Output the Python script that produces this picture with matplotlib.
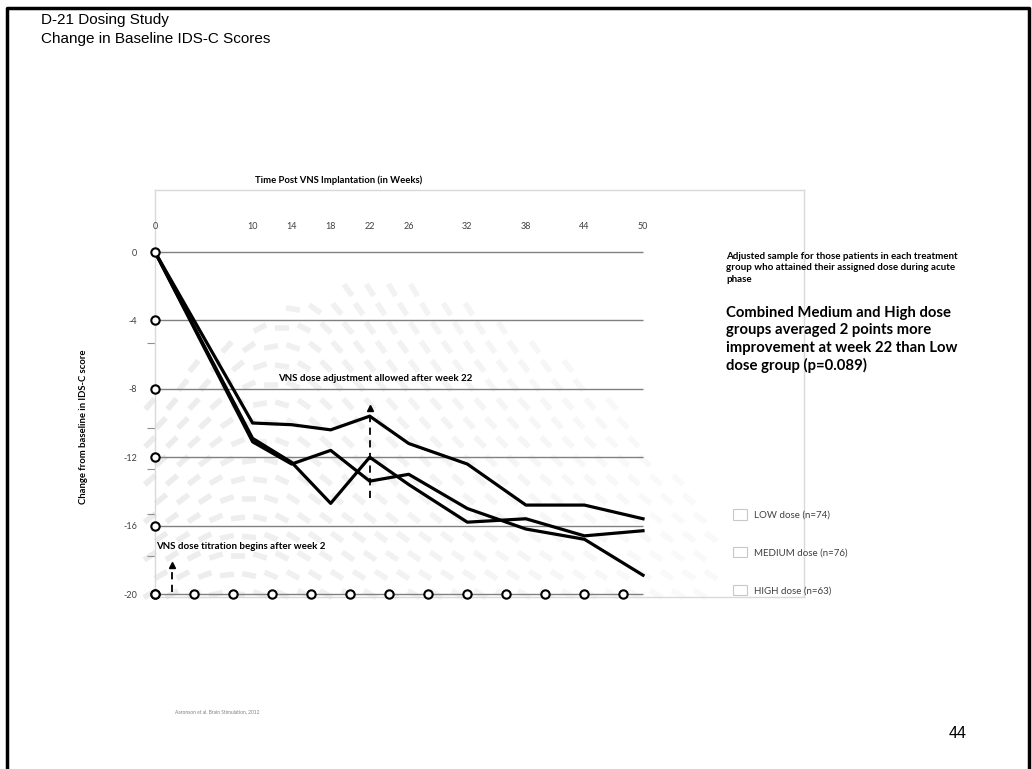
import numpy as np
import matplotlib.pyplot as plt
from matplotlib.collections import LineCollection
from matplotlib.patches import Patch

plt.rcParams['font.family'] = ['Lato', 'DejaVu Sans']

# mean change from baseline IDS-C score by week
weeks = [0, 10, 14, 18, 22, 26, 32, 38, 44, 50]
low_dose = [0, -10.0, -10.1, -10.4, -9.6, -11.2, -12.4, -14.8, -14.8, -15.6]
medium_dose = [0, -11.1, -12.4, -11.6, -13.4, -13.0, -15.0, -16.2, -16.8, -18.9]
high_dose = [0, -10.9, -12.3, -14.7, -12.0, -13.6, -15.8, -15.6, -16.6, -16.3]
series_labels = ['LOW dose (n=74)', 'MEDIUM dose (n=76)', 'HIGH dose (n=63)']

y_ticks = [0, -4, -8, -12, -16, -20]
y_minor = [-5.3, -10.3, -12.7, -15.3, -17.8]
visit_weeks = [0, 4, 8, 12, 16, 20, 24, 28, 32, 36, 40, 44, 48]

W, H = 1032, 769
fig = plt.figure(figsize=(W / 100, H / 100), dpi=100)

# page layer in pixel units: slide frame + faint dashed watermark
bg = fig.add_axes([0, 0, 1, 1])
bg.set_xlim(0, W)
bg.set_ylim(H, 0)
bg.axis('off')
bg.plot([7, 7, 1029, 1029], [H, 8, 8, H], color='black', lw=2.5)

segs, cols = [], []
for j, py in enumerate(np.arange(290, 600, 19)):
    for px in np.arange(150 + (j % 2) * 11, 720, 22):
        if py < 285 + 0.00217 * (px - 380) ** 2:
            continue
        t = (py - 290) / 310
        ang = -np.radians(60 - 30 * t) * np.tanh((px - 290 + 60 * t) / 40)
        dx, dy = 7 * np.cos(ang), -7 * np.sin(ang)
        segs.append([(px - dx, py - dy), (px + dx, py + dy)])
        fade = min(1.0, max(0.0, (px - 150) / 500))
        g = 0.925 + 0.05 * fade
        cols.append((g, g, g))
bg.add_collection(LineCollection(segs, colors=cols, linewidths=4, capstyle='butt', zorder=0))

# chart
ax = fig.add_axes([155 / W, 1 - 597 / H, 649 / W, 407 / H])
ax.patch.set_alpha(0)
ax.set_xlim(0, 649 / 9.76)
ax.set_ylim(-(597 - 252) / 17.1, 62 / 17.1)
for s in ax.spines.values():
    s.set_color('#d9d9d9')
    s.set_linewidth(1)

ax.hlines(y_ticks, 0, 50, color='#808080', lw=1, zorder=1)
ax.plot([0, 0], [0, -20], color='black', lw=1.2, zorder=2)

for vals in (low_dose, medium_dose, high_dose):
    ax.plot(weeks, vals, color='black', lw=2.3, zorder=3)

ax.plot([0] * len(y_ticks), y_ticks, 'o', ms=6, mfc='white', mec='black',
        mew=1.5, zorder=5, clip_on=False)
ax.plot(visit_weeks, [-20] * len(visit_weeks), 'o', ms=6, mfc='white', mec='black',
        mew=1.5, zorder=5, clip_on=False)

ax.set_xticks([])
ax.set_yticks(y_ticks)
ax.set_yticklabels([str(v) for v in y_ticks], fontsize=6.5, color='#404040')
ax.tick_params(axis='y', which='major', length=0, pad=13)
ax.set_yticks(y_minor, minor=True)
ax.tick_params(axis='y', which='minor', length=6, color='#909090', width=0.8)

for w in weeks:
    ax.text(w, 1.5, str(w), ha='center', va='center', fontsize=6.5, color='#404040')

fig.text(339 / W, 1 - 180 / H, 'Time Post VNS Implantation (in Weeks)', ha='center',
         va='center', fontsize=6.8, fontweight='bold')
fig.text(83 / W, 1 - 427 / H, 'Change from baseline in IDS-C score', rotation=90,
         ha='center', va='center', fontsize=6.8, fontweight='bold')

# dose-change markers
ax.text(12.6, -7.37, 'VNS dose adjustment allowed after week 22', ha='left', va='center',
        fontsize=7, fontweight='bold')
ax.plot([22, 22], [-14.4, -9.2], color='black', lw=1.3, ls=(0, (4, 3)), zorder=4)
ax.plot([22], [-9.1], marker='^', ms=4, color='black', zorder=4)
ax.text(0.1, -17.2, 'VNS dose titration begins after week 2', ha='left', va='center',
        fontsize=7, fontweight='bold')
ax.plot([1.7, 1.7], [-19.9, -18.4], color='black', lw=1.3, ls=(0, (4, 3)), zorder=4)
ax.plot([1.7], [-18.3], marker='^', ms=4, color='black', zorder=4)

fig.text(726 / W, 1 - 252 / H,
         'Adjusted sample for those patients in each treatment\n'
         'group who attained their assigned dose during acute\nphase',
         ha='left', va='top', fontsize=7, fontweight='bold', linespacing=1.35)
fig.text(726 / W, 1 - 306 / H,
         'Combined Medium and High dose\ngroups averaged 2 points more\n'
         'improvement at week 22 than Low\ndose group (p=0.089)',
         ha='left', va='top', fontsize=10.7, fontweight='bold', linespacing=1.3)

handles = [Patch(facecolor='white', edgecolor='#c8c8c8', lw=0.8) for _ in series_labels]
fig.legend(handles, series_labels, loc='upper left', bbox_to_anchor=(733 / W, 1 - 509 / H),
           frameon=False, fontsize=7, labelspacing=2.8, handlelength=1.4, handleheight=1.3,
           handletextpad=0.8, borderpad=0, borderaxespad=0, labelcolor='#404040')

fig.text(41 / W, 1 - 20 / H, 'D-21 Dosing Study', family='Liberation Sans', fontsize=11,
         va='center')
fig.text(41 / W, 1 - 39 / H, 'Change in Baseline IDS-C Scores', family='Liberation Sans',
         fontsize=11, va='center')
fig.text(175 / W, 1 - 712 / H, 'Aaronson et al. Brain Stimulation, 2012', fontsize=3.5,
         color='#808080', va='center')
fig.text(958 / W, 1 - 733 / H, '44', family='Liberation Sans', fontsize=11.5, ha='center',
         va='center')

fig.savefig('out.png', dpi=100)
